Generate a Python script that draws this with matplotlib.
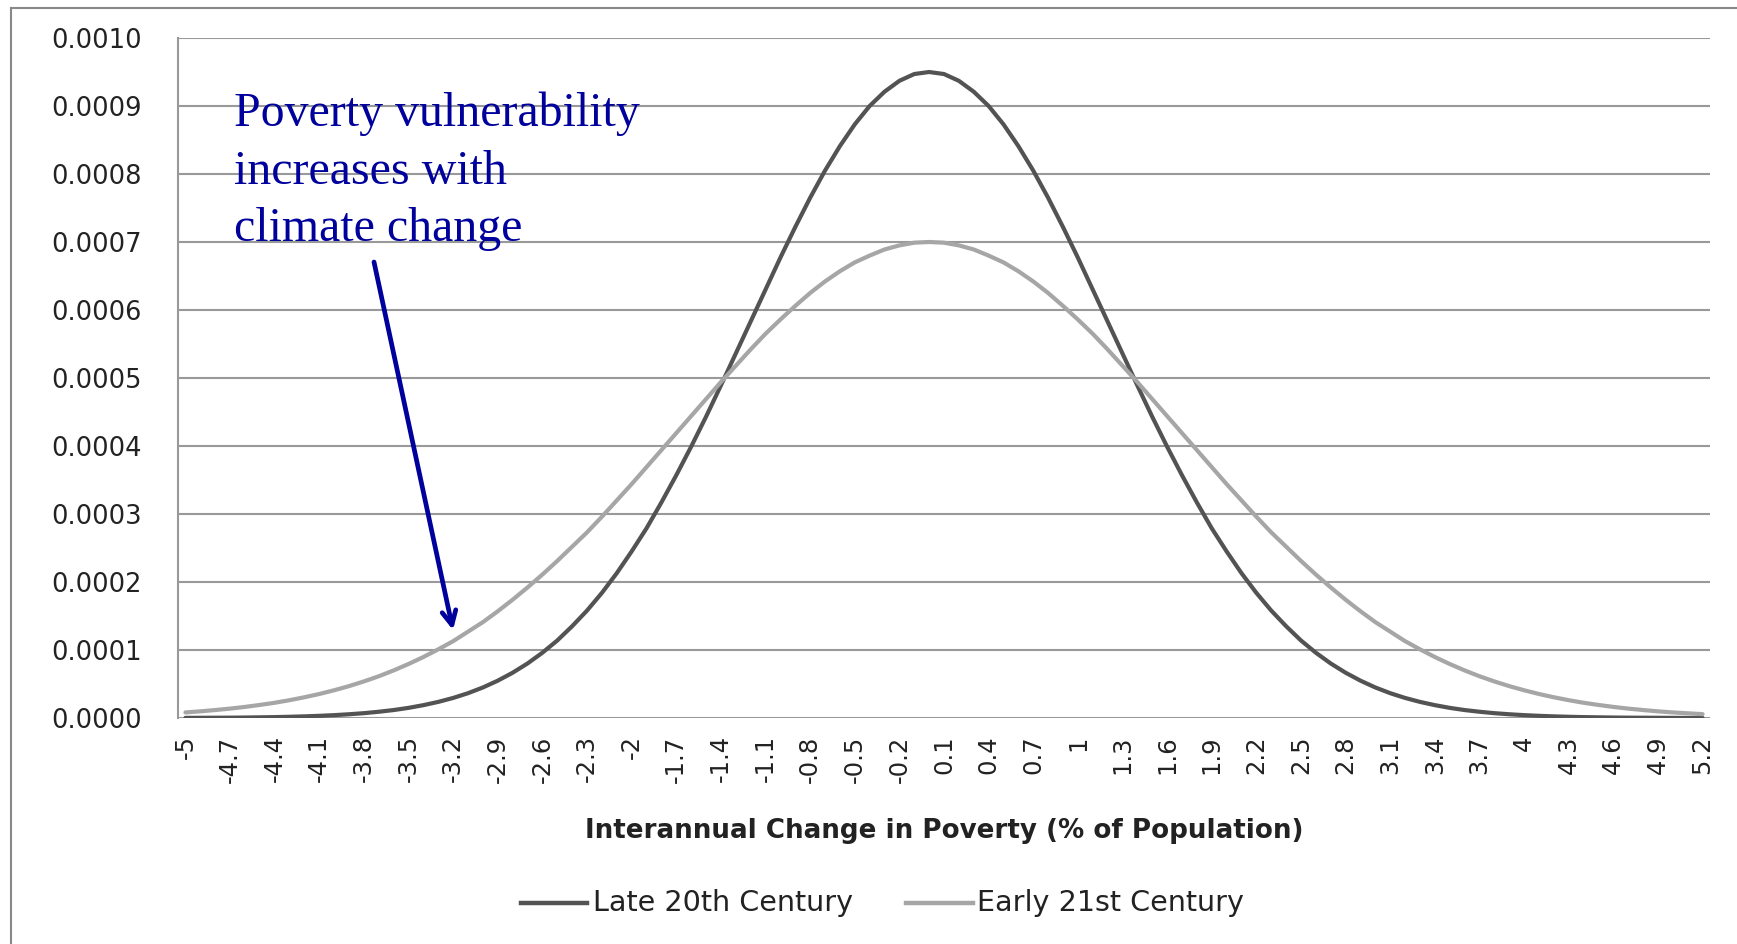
import numpy as np
import matplotlib
matplotlib.use("Agg")
import matplotlib.pyplot as plt
from matplotlib.lines import Line2D

# --------------------------------------------------
# Data: density of interannual poverty change, -5 .. 5.2 in 0.1 steps
# --------------------------------------------------
categories = np.round(np.arange(-50, 53) / 10, 1)

late_20th = [
    0.0000002, 0.0000003, 0.0000004, 0.0000005, 0.0000007, 0.0000010, 0.0000013,
    0.0000018, 0.0000024, 0.0000032, 0.0000042, 0.0000055, 0.0000071, 0.0000092,
    0.0000117, 0.0000149, 0.0000189, 0.0000237, 0.0000295, 0.0000365, 0.0000449,
    0.0000549, 0.0000666, 0.0000802, 0.0000960, 0.000114, 0.000135, 0.000158,
    0.000184, 0.000213, 0.000245, 0.000279, 0.000317, 0.000357, 0.000399,
    0.000443, 0.000489, 0.000536, 0.000583, 0.000630, 0.000677, 0.000722,
    0.000765, 0.000805, 0.000841, 0.000873, 0.000900, 0.000921, 0.000937,
    0.000947, 0.000950,
    0.000947, 0.000937, 0.000921, 0.000900, 0.000873, 0.000841, 0.000805,
    0.000765, 0.000722, 0.000677, 0.000630, 0.000583, 0.000536, 0.000489,
    0.000443, 0.000399, 0.000357, 0.000317, 0.000279, 0.000245, 0.000213,
    0.000184, 0.000158, 0.000135, 0.000114, 0.0000960, 0.0000802, 0.0000666,
    0.0000549, 0.0000449, 0.0000365, 0.0000295, 0.0000237, 0.0000189, 0.0000149,
    0.0000117, 0.0000092, 0.0000071, 0.0000055, 0.0000042, 0.0000032, 0.0000024,
    0.0000018, 0.0000013, 0.0000010, 0.0000007, 0.0000005, 0.0000004, 0.0000003,
    0.0000002, 0.0000001, 0.0000001,
]

early_21st = [
    0.0000082, 0.0000098, 0.0000117, 0.0000138, 0.0000163, 0.0000192, 0.0000224,
    0.0000262, 0.0000305, 0.0000353, 0.0000408, 0.0000469, 0.0000538, 0.0000614,
    0.0000700, 0.0000794, 0.0000897, 0.000101, 0.000113, 0.000127, 0.000141,
    0.000157, 0.000174, 0.000192, 0.000211, 0.000231, 0.000252, 0.000273,
    0.000296, 0.000320, 0.000344, 0.000369, 0.000394, 0.000419, 0.000444,
    0.000469, 0.000494, 0.000518, 0.000542, 0.000565, 0.000586, 0.000606,
    0.000625, 0.000642, 0.000657, 0.000670, 0.000680, 0.000689, 0.000695,
    0.000699, 0.000700,
    0.000699, 0.000695, 0.000689, 0.000680, 0.000670, 0.000657, 0.000642,
    0.000625, 0.000606, 0.000586, 0.000565, 0.000542, 0.000518, 0.000494,
    0.000469, 0.000444, 0.000419, 0.000394, 0.000369, 0.000344, 0.000320,
    0.000296, 0.000273, 0.000252, 0.000231, 0.000211, 0.000192, 0.000174,
    0.000157, 0.000141, 0.000127, 0.000113, 0.000101, 0.0000897, 0.0000794,
    0.0000700, 0.0000614, 0.0000538, 0.0000469, 0.0000408, 0.0000353, 0.0000305,
    0.0000262, 0.0000224, 0.0000192, 0.0000163, 0.0000138, 0.0000117, 0.0000098,
    0.0000082, 0.0000069, 0.0000057,
]

series_names = ["Late 20th Century", "Early 21st Century"]
y_ticks = [0.0000, 0.0001, 0.0002, 0.0003, 0.0004, 0.0005,
           0.0006, 0.0007, 0.0008, 0.0009, 0.0010]
label_every = 3

# --------------------------------------------------
# Figure
# --------------------------------------------------
W, H = 1737, 944
fig = plt.figure(figsize=(W / 100, H / 100), dpi=100)
fig.patch.set_facecolor("white")

left, right, top, bottom = 178, 1710, 38, 718
ax = fig.add_axes([left / W, 1 - bottom / H, (right - left) / W, (bottom - top) / H])

idx = np.arange(len(categories))
ax.plot(idx, late_20th, color="#535353", lw=3.0, solid_capstyle="round", zorder=3)
ax.plot(idx, early_21st, color="#a6a6a6", lw=3.0, solid_capstyle="round", zorder=3)

ax.set_xlim(-0.5, len(categories) - 0.5)
ax.set_ylim(0, 0.001)

ax.set_yticks(y_ticks)
ax.set_yticklabels([f"{v:.4f}" for v in y_ticks])
ax.yaxis.grid(True, color="#999999", lw=1.5)
ax.set_axisbelow(True)

tick_pos = idx[::label_every]
ax.set_xticks(tick_pos)
ax.set_xticklabels([f"{v:g}" for v in categories[::label_every]], rotation=90)

ax.tick_params(axis="y", length=0, pad=26, labelsize=18.5, labelcolor="#222222")
ax.tick_params(axis="x", length=0, pad=12.5, labelsize=17.5, labelcolor="#222222")

for side in ["top", "right", "bottom"]:
    ax.spines[side].set_visible(False)
ax.spines["left"].set_color("#999999")
ax.spines["left"].set_linewidth(1.5)

fig.text((left + right) / 2 / W, 1 - 831 / H,
         "Interannual Change in Poverty (% of Population)",
         ha="center", va="center", fontsize=18.8, fontweight="bold", color="#222222")

# legend drawn by hand, Excel style (line + label in a row)
ly = 1 - 903 / H
legend_items = [(521, 587, 593, "#535353"), (906, 973, 977, "#a6a6a6")]
for name, (x0, x1, xt, col) in zip(series_names, legend_items):
    fig.add_artist(Line2D([x0 / W, x1 / W], [ly, ly], color=col, lw=3.2))
    fig.text(xt / W, ly, name, ha="left", va="center", fontsize=20.6, color="#222222")

# annotation text and arrow
fig.text(234 / W, 1 - 92 / H,
         "Poverty vulnerability\nincreases with\nclimate change",
         ha="left", va="top", fontsize=34.5, family="Liberation Serif",
         color="#00009c", linespacing=1.39)
ax.annotate("", xy=(453, H - 630), xycoords="figure pixels",
            xytext=(374, H - 262), textcoords="figure pixels",
            arrowprops=dict(arrowstyle="->,head_length=1.0,head_width=0.5",
                            color="#00009c", lw=3.4, shrinkA=0, shrinkB=0))

# outer chart frame (top and left edges)
fig.add_artist(Line2D([11 / W, 1], [1 - 8 / H, 1 - 8 / H], color="#888888", lw=1.5))
fig.add_artist(Line2D([11 / W, 11 / W], [0, 1 - 8 / H], color="#888888", lw=1.5))

fig.savefig("out.png", dpi=100)
